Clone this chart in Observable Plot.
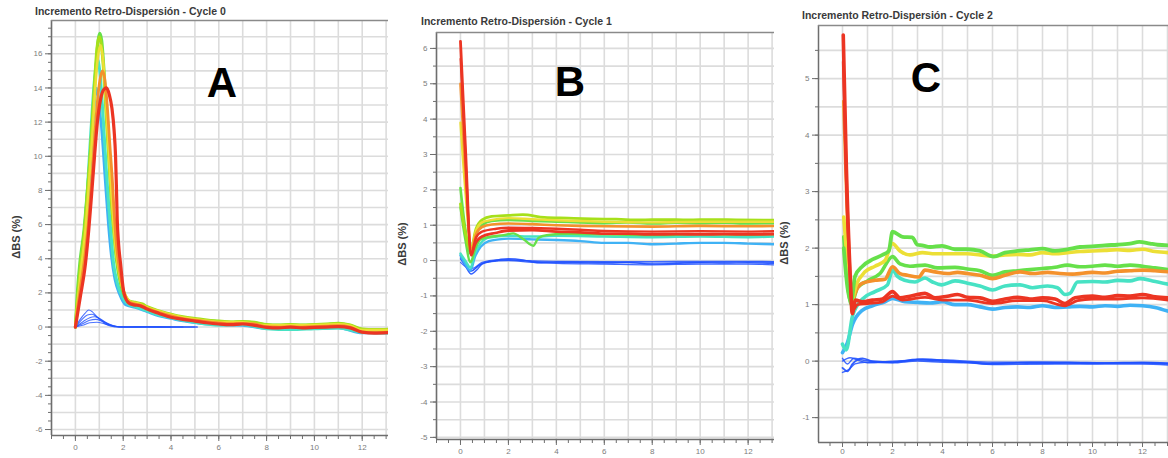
<!DOCTYPE html>
<html lang="es">
<head>
<meta charset="utf-8">
<script src="https://cdn.jsdelivr.net/npm/d3@7"></script>
<script src="https://cdn.jsdelivr.net/npm/@observablehq/plot@0.6"></script>
<style>
  html, body { margin: 0; padding: 0; background: #fff; }
  #page { position: relative; width: 1168px; height: 458px; overflow: hidden; font-family: "Liberation Sans", Arial, sans-serif; }
  .panel { position: absolute; top: 0; }
  .title { position: absolute; font-weight: bold; font-size: 10.5px; color: #3a3a3a; white-space: nowrap; line-height: 1; }
  .ylab { position: absolute; font-weight: bold; font-size: 11px; color: #3a3a3a; white-space: nowrap; line-height: 1; transform: translate(-50%, -50%) rotate(-90deg); }
  .tag { position: absolute; font-weight: bold; font-size: 42px; color: #000; line-height: 1; transform: translateX(-50%); }
</style>
</head>
<body>
<div id="page"></div>
<script>
// Scan colours, from the first scans (blue) to the last ones (red)
const BLUE = "#1f50ff";
const SKY = "#3fb2f5";
const TURQ = "#47e2c4";
const GREEN = "#66e04a";
const LIME = "#a6e01a";
const YELLOW = "#ecdf35";
const ORANGE = "#f4912c";
const RED = "#ec3523";

// ---------- Cycle 0 : ΔBS (%) vs time ----------
const cycle0XTicks = [0, 2, 4, 6, 8, 10, 12];
const cycle0YTicks = [-6, -4, -2, 0, 2, 4, 6, 8, 10, 12, 14, 16];

const c0Blue1 = [[0,0],[0.2,0.45],[0.4,0.8],[0.56,1.0],[0.7,0.9],[0.9,0.6],[1.1,0.35],[1.3,0.15],[1.5,0.05],[1.8,0],[2.5,0],[3.5,0],[4.5,0],[5.1,0]];
const c0Blue2 = [[0,0],[0.25,0.4],[0.5,0.7],[0.7,0.75],[0.9,0.6],[1.1,0.4],[1.4,0.15],[1.7,0.03],[2,0],[3,0],[4,0],[5.1,0]];
const c0Blue3 = [[0,0],[0.3,0.3],[0.6,0.55],[0.8,0.6],[1.0,0.5],[1.3,0.25],[1.6,0.08],[2,0],[3,0.02],[4,0],[5,0]];
const c0Blue4 = [[0,0],[0.3,0.2],[0.6,0.4],[0.85,0.45],[1.1,0.35],[1.4,0.15],[1.8,0.02],[2.5,0],[4.5,0]];
const c0Blue5 = [[0,0],[0.3,0.1],[0.6,0.25],[0.9,0.28],[1.2,0.2],[1.5,0.08],[1.9,0],[3,0],[4,0]];
const c0Sky = [[0,0],[0.1,1],[0.25,2.5],[0.4,4.5],[0.55,7.5],[0.7,11],[0.82,13.4],[0.88,14.0],[0.96,13.5],[1.1,11.5],[1.25,8.5],[1.38,6],[1.5,4.2],[1.65,2.8],[1.85,1.9],[2.1,1.3],[2.5,1.15],[3,0.9],[3.5,0.65],[4,0.5],[4.5,0.35],[5,0.25],[6,0.12],[7,0.1],[8,-0.1],[9,-0.1],[10,-0.1],[11,-0.05],[12,-0.35],[13.1,-0.35]];
const c0Turq = [[0,0],[0.08,1],[0.2,2.5],[0.35,5],[0.5,8],[0.65,11.5],[0.8,14.5],[0.93,15.7],[1.02,15],[1.15,12.5],[1.28,9.5],[1.4,7],[1.48,5.6],[1.6,3.7],[1.75,2.6],[1.95,1.8],[2.2,1.35],[2.5,1.2],[3,0.95],[3.5,0.7],[4,0.55],[4.5,0.4],[5,0.28],[6,0.12],[7,0.15],[8,-0.1],[9,-0.15],[10,-0.1],[11,-0.05],[12,-0.3],[13.1,-0.35]];
const c0Green = [[0,0],[0.07,1.8],[0.18,3.7],[0.36,5.7],[0.5,8],[0.62,10],[0.72,12.3],[0.85,15],[0.95,16.8],[1.02,17.2],[1.1,16.8],[1.2,15],[1.3,12.5],[1.4,10],[1.5,7.5],[1.6,5.7],[1.72,3.9],[1.88,2.6],[2.05,1.8],[2.25,1.5],[2.5,1.4],[2.8,1.3],[3,1.15],[3.5,0.9],[4,0.72],[4.5,0.55],[5,0.45],[5.5,0.38],[6,0.32],[6.5,0.28],[7,0.3],[7.5,0.25],[8,0.12],[8.5,0.1],[9,0.12],[9.5,0.1],[10,0.12],[10.5,0.15],[11,0.2],[11.5,0.1],[12,-0.15],[12.5,-0.18],[13.1,-0.15]];
const c0Lime = [[0,0],[0.08,1.5],[0.2,3.5],[0.39,5.8],[0.52,8.2],[0.66,11],[0.78,13.8],[0.9,16.3],[1.0,17.0],[1.08,16.6],[1.18,15],[1.3,12.2],[1.42,9.5],[1.52,7.2],[1.62,5.5],[1.75,3.8],[1.9,2.6],[2.1,1.8],[2.3,1.5],[2.5,1.45],[2.8,1.35],[3,1.2],[3.5,0.95],[4,0.75],[4.5,0.6],[5,0.5],[5.5,0.42],[6,0.35],[6.5,0.3],[7,0.32],[7.5,0.28],[8,0.15],[8.5,0.12],[9,0.15],[9.5,0.12],[10,0.15],[10.5,0.18],[11,0.22],[11.5,0.12],[12,-0.12],[12.5,-0.15],[13.1,-0.12]];
const c0Yellow = [[0,0],[0.08,1.2],[0.22,3.2],[0.41,5.5],[0.55,8],[0.7,11],[0.82,13.8],[0.95,15.9],[1.05,16.5],[1.13,16],[1.23,14.3],[1.35,11.5],[1.46,8.8],[1.56,6.8],[1.66,5.0],[1.8,3.5],[1.95,2.4],[2.15,1.7],[2.35,1.45],[2.6,1.4],[3,1.15],[3.5,0.92],[4,0.72],[4.5,0.56],[5,0.46],[6,0.3],[7,0.28],[8,0.1],[9,0.1],[10,0.12],[11,0.16],[11.5,0.08],[12,-0.18],[13.1,-0.18]];
const c0Orange = [[0,0],[0.07,0.9],[0.2,2.2],[0.4,4.2],[0.55,6.2],[0.68,8.5],[0.8,11],[0.92,13.2],[1.03,14.5],[1.13,15.0],[1.22,14.6],[1.33,13],[1.45,10.5],[1.55,8.5],[1.63,6.5],[1.72,4.8],[1.85,3.3],[2.0,2.2],[2.2,1.5],[2.5,1.35],[2.8,1.25],[3,1.1],[3.5,0.85],[4,0.65],[4.5,0.5],[5,0.4],[5.5,0.32],[6,0.25],[6.5,0.2],[7,0.22],[7.5,0.18],[8,0.02],[8.5,0.0],[9,0.03],[9.5,0.0],[10,0.03],[10.5,0.05],[11,0.08],[11.5,0.0],[12,-0.3],[12.5,-0.33],[13.1,-0.3]];
const c0Red = [[0,0],[0.07,0.6],[0.21,1.8],[0.42,3.7],[0.56,5.7],[0.68,7.8],[0.8,10],[0.92,12],[1.05,13.3],[1.18,13.9],[1.3,14.0],[1.42,13.6],[1.53,12.8],[1.62,11.5],[1.68,10],[1.72,8],[1.75,6.3],[1.8,5],[1.89,3.7],[2.03,2.0],[2.24,1.4],[2.45,1.3],[2.7,1.25],[3,1.05],[3.5,0.8],[4,0.57],[4.5,0.45],[5,0.35],[5.5,0.25],[6,0.18],[6.5,0.14],[7,0.18],[7.5,0.1],[8,-0.02],[8.5,-0.05],[9,0.0],[9.5,-0.05],[10,-0.02],[10.5,0.0],[11,0.02],[11.5,-0.05],[12,-0.3],[12.5,-0.35],[13.1,-0.32]];

// ---------- Cycle 1 ----------
const cycle1XTicks = [0, 2, 4, 6, 8, 10, 12];
const cycle1YTicks = [-5, -4, -3, -2, -1, 0, 1, 2, 3, 4, 5, 6];

const c1Blue1 = [[0,0.05],[0.2,-0.15],[0.45,-0.38],[0.7,-0.25],[0.9,-0.1],[1.3,-0.02],[2,0.05],[2.6,0.02],[3.2,-0.06],[4,-0.05],[5,-0.06],[6,-0.07],[7,-0.05],[8,-0.1],[9,-0.08],[10,-0.06],[11,-0.07],[12,-0.06],[13.1,-0.08]];
const c1Blue2 = [[0,0.15],[0.2,-0.1],[0.4,-0.3],[0.7,-0.18],[1,-0.05],[1.5,0.0],[2,0.03],[3,-0.02],[4,-0.04],[6,-0.05],[8,-0.07],[10,-0.05],[12,-0.04],[13.1,-0.05]];
const c1Blue3 = [[0,-0.05],[0.25,-0.2],[0.45,-0.3],[0.8,-0.12],[1.2,-0.04],[2,0.0],[3,-0.05],[4,-0.08],[6,-0.1],[8,-0.12],[10,-0.1],[12,-0.1],[13.1,-0.12]];
const c1Blue4 = [[0,0.1],[0.3,-0.15],[0.5,-0.22],[0.9,-0.05],[1.5,0.02],[2.5,0.0],[4,-0.02],[6,-0.03],[8,-0.03],[10,-0.02],[12,-0.02],[13.1,-0.03]];
const c1Sky = [[0,0.15],[0.2,-0.1],[0.42,-0.28],[0.6,0.1],[0.85,0.4],[1.18,0.55],[1.6,0.6],[2,0.62],[3,0.6],[4,0.58],[5,0.55],[6,0.5],[7,0.5],[8,0.46],[9,0.48],[10,0.5],[11,0.5],[12,0.48],[13.1,0.46]];
const c1Turq = [[0,0.2],[0.2,0],[0.42,-0.2],[0.6,0.2],[0.85,0.5],[1.2,0.65],[2,0.7],[3,0.68],[4,0.7],[6,0.68],[8,0.66],[10,0.68],[12,0.66],[13.1,0.68]];
const c1LightGreen = [[0,1.5],[0.2,0.6],[0.42,-0.05],[0.6,0.3],[0.83,0.6],[1.3,0.68],[1.8,0.72],[2.2,0.77],[2.6,0.62],[3.04,0.42],[3.25,0.64],[3.6,0.72],[4.5,0.76],[6,0.74],[8,0.72],[10,0.74],[12,0.73],[13.1,0.74]];
const c1Green = [[0,2.05],[0.2,0.9],[0.42,0.2],[0.65,0.75],[0.9,1.0],[1.3,1.12],[2,1.15],[3,1.12],[4,1.1],[5,1.08],[6,1.06],[7,1.08],[8,1.05],[9,1.07],[10,1.06],[11,1.07],[12,1.05],[13.1,1.06]];
const c1Lime = [[0,1.6],[0.2,0.8],[0.42,0.3],[0.65,0.9],[0.9,1.15],[1.3,1.25],[2,1.28],[2.6,1.3],[3.5,1.22],[4.5,1.2],[5.5,1.18],[6.5,1.17],[7.5,1.15],[8.5,1.16],[9.5,1.15],[10.5,1.16],[11.5,1.15],[13.1,1.14]];
const c1Yellow = [[0,3.9],[0.2,2.0],[0.45,0.35],[0.65,0.85],[0.9,1.08],[1.3,1.15],[2,1.2],[3,1.17],[4,1.14],[5,1.12],[6,1.1],[8,1.08],[10,1.1],[12,1.1],[13.1,1.1]];
const c1Orange = [[0,5.0],[0.2,2.6],[0.45,0.3],[0.65,0.75],[0.9,0.95],[1.3,1.02],[2,1.05],[3,1.03],[4,1.0],[5,0.98],[6,0.97],[8,0.96],[10,0.98],[12,0.97],[13.1,0.98]];
const c1Red2 = [[0.01,5.7],[0.2,3.0],[0.45,0.2],[0.65,0.65],[0.9,0.82],[1.5,0.9],[2,0.93],[3,0.92],[4,0.9],[5,0.87],[6,0.84],[8,0.82],[10,0.83],[12,0.82],[13.1,0.83]];
const c1Red = [[0,6.2],[0.2,3.3],[0.45,0.15],[0.6,0.45],[0.9,0.68],[1.46,0.78],[2,0.85],[3,0.86],[4,0.82],[5,0.8],[6,0.76],[7,0.76],[8,0.74],[9,0.75],[10,0.74],[11,0.75],[12,0.74],[13.1,0.75]];

// ---------- Cycle 2 ----------
const cycle2XTicks = [0, 2, 4, 6, 8, 10, 12];
const cycle2YTicks = [-1, 0, 1, 2, 3, 4, 5];

const c2Blue1 = [[0,-0.12],[0.2,-0.18],[0.4,-0.05],[0.8,0.05],[1.2,0.0],[2,-0.02],[3,0.03],[3.5,0.02],[4,0.0],[5,-0.02],[6,-0.05],[7,-0.03],[8,-0.04],[9,-0.03],[10,-0.04],[11,-0.03],[12,-0.03],[13.04,-0.05]];
const c2Blue2 = [[0,0.05],[0.2,-0.05],[0.45,0.05],[0.8,0.02],[1.5,-0.02],[2.5,0.0],[3.2,0.04],[4.5,0.0],[6,-0.04],[7.5,-0.02],[9,-0.02],[10.5,-0.03],[12,-0.02],[13.04,-0.04]];
const c2Blue3 = [[0,-0.2],[0.25,-0.15],[0.5,-0.05],[0.9,-0.02],[2,-0.03],[3,0.0],[4,-0.02],[5,-0.03],[6,-0.06],[8,-0.05],[10,-0.05],[12,-0.05],[13.04,-0.07]];
const c2Blue4 = [[0,0.0],[0.3,0.06],[0.6,0.02],[1,-0.03],[2,0.0],[3.3,0.02],[4,0.02],[6,-0.02],[8,-0.02],[10,-0.03],[12,-0.03],[13.04,-0.03]];
const c2Sky = [[0,0.15],[0.19,0.32],[0.4,0.65],[0.79,0.9],[1.2,0.98],[1.7,1.05],[2.0,1.11],[2.5,1.05],[3,1.04],[3.5,1.03],[4,1.05],[4.5,1.0],[5,1.0],[5.5,0.96],[6,0.92],[6.5,0.95],[7,0.96],[7.5,0.95],[8,0.98],[8.5,0.95],[9,0.96],[9.5,0.97],[10,0.96],[10.5,0.98],[11,0.97],[11.5,0.99],[12,0.98],[12.5,0.95],[13.04,0.88]];
const c2Turq = [[0,0.3],[0.15,0.2],[0.4,0.8],[0.8,1.1],[1.3,1.23],[1.8,1.35],[2.0,1.61],[2.2,1.5],[2.48,1.43],[2.9,1.4],[3.3,1.47],[3.6,1.4],[3.97,1.35],[4.5,1.42],[5,1.38],[5.5,1.33],[6,1.26],[6.5,1.33],[7.1,1.35],[7.6,1.3],[8.2,1.33],[8.6,1.3],[8.9,1.18],[9.1,1.2],[9.4,1.4],[10,1.41],[10.5,1.4],[11,1.43],[11.5,1.42],[11.9,1.46],[12.4,1.42],[13.04,1.36]];
const c2GreenMid = [[0.05,2.2],[0.2,1.4],[0.35,1.0],[0.6,1.3],[1.0,1.42],[1.5,1.55],[2.0,1.85],[2.3,1.72],[2.7,1.68],[3.3,1.7],[3.8,1.65],[4.5,1.66],[5,1.63],[5.5,1.6],[6,1.52],[6.5,1.58],[7,1.6],[7.5,1.62],[8,1.64],[8.5,1.66],[9,1.7],[9.5,1.67],[10,1.68],[10.5,1.7],[11,1.68],[11.5,1.7],[12,1.68],[12.5,1.65],[13.04,1.62]];
const c2Orange = [[0.05,4.6],[0.2,2.5],[0.38,1.1],[0.6,1.3],[0.8,1.38],[1.3,1.43],[1.7,1.45],[2.0,1.67],[2.3,1.55],[2.6,1.52],[3.05,1.49],[3.3,1.61],[3.7,1.58],[4.2,1.55],[4.6,1.57],[5,1.55],[5.5,1.52],[6,1.46],[6.5,1.52],[7.1,1.58],[7.6,1.55],[8.2,1.57],[8.7,1.55],[9.2,1.54],[10,1.57],[10.5,1.56],[11,1.59],[11.5,1.6],[12,1.61],[12.5,1.6],[13.04,1.58]];
const c2Yellow = [[0.05,2.55],[0.2,1.7],[0.35,1.05],[0.55,1.35],[0.9,1.58],[1.3,1.68],[1.7,1.78],[2.0,2.08],[2.3,1.95],[2.7,1.88],[3.2,1.92],[3.7,1.9],[4.3,1.9],[5,1.9],[5.5,1.88],[6,1.86],[6.5,1.88],[7,1.89],[7.5,1.88],[8,1.92],[8.5,1.9],[9,1.92],[9.5,1.94],[10,1.95],[10.5,1.96],[11,1.97],[11.5,1.96],[12,1.98],[12.5,1.94],[13.04,1.92]];
const c2Green = [[0.05,2.0],[0.2,1.3],[0.35,1.05],[0.5,1.5],[0.8,1.68],[1.2,1.8],[1.6,1.88],[1.85,1.95],[2.0,2.29],[2.4,2.2],[2.79,2.19],[3.0,2.06],[3.18,2.05],[3.5,2.02],[3.98,2.04],[4.5,1.98],[5,1.98],[5.5,1.95],[6.05,1.85],[6.5,1.92],[7,1.95],[7.5,1.97],[8,1.99],[8.5,1.95],[9,1.98],[9.5,2.02],[10,2.03],[10.5,2.05],[11,2.06],[11.5,2.08],[11.87,2.11],[12.3,2.08],[12.6,2.06],[13.04,2.05]];
const c2Red2 = [[0.03,5.3],[0.15,3.2],[0.3,1.5],[0.42,0.9],[0.6,1.0],[1,1.02],[1.6,1.05],[2,1.15],[2.4,1.08],[3.3,1.13],[4,1.08],[5,1.08],[6,1.02],[7,1.07],[8,1.07],[8.9,0.98],[9.4,1.07],[10,1.1],[11,1.1],[12,1.12],[13.04,1.08]];
const c2Red = [[0.03,5.77],[0.15,3.5],[0.3,1.6],[0.39,0.84],[0.52,1.08],[0.8,1.05],[1.2,1.08],[1.6,1.1],[2,1.23],[2.3,1.12],[2.7,1.15],[3.3,1.2],[3.7,1.12],[4.2,1.15],[4.6,1.18],[5,1.13],[5.5,1.12],[6,1.06],[6.5,1.1],[7,1.13],[7.5,1.1],[8,1.12],[8.5,1.1],[8.9,1.02],[9.3,1.12],[10,1.15],[10.5,1.13],[11,1.16],[11.5,1.15],[12,1.18],[12.5,1.14],[13.04,1.12]];

const GRID = "#dcdcdc";
const AXIS = "#6e6e6e";
const TICK_TEXT = "#7c7c7c";

const page = document.getElementById("page");

function addDiv(cls, text, style) {
  const d = document.createElement("div");
  d.className = cls;
  d.textContent = text;
  Object.assign(d.style, style);
  page.appendChild(d);
}

// Plain hyphen-minus for negative tick labels
const tickText = d => String(d);

function panel(cfg) {
  const [x0, x1] = cfg.xDomain;
  const [y0, y1] = cfg.yDomain;
  const xMinor = d3.range(Math.ceil(x0 * 2) / 2, x1 + 1e-9, 0.5);
  const xGrid = d3.range(Math.ceil(x0), x1 + 1e-9, 1);
  const yMinor = d3.range(Math.ceil(y0 * 2) / 2, y1 + 1e-9, 0.5);
  const yGrid = d3.range(Math.ceil(y0 / cfg.yGridStep) * cfg.yGridStep, y1 + 1e-9, cfg.yGridStep);
  const lines = cfg.series.map(s => Plot.line(s.points, {
    x: d => d[0], y: d => d[1],
    stroke: s.color, strokeWidth: s.width, strokeOpacity: s.opacity ?? 1,
    curve: "monotone-x", clip: true, strokeLinejoin: "round", strokeLinecap: "round"
  }));
  const svg = Plot.plot({
    width: cfg.width,
    height: 458,
    marginLeft: cfg.marginLeft,
    marginRight: cfg.marginRight,
    marginTop: cfg.marginTop,
    marginBottom: cfg.marginBottom,
    style: {fontFamily: "'Liberation Sans', Arial, sans-serif", fontSize: "8px", background: "transparent"},
    x: {domain: cfg.xDomain},
    y: {domain: cfg.yDomain},
    marks: [
      Plot.gridX(xGrid, {stroke: GRID, strokeOpacity: 1, strokeWidth: 1.6}),
      Plot.gridY(yGrid, {stroke: GRID, strokeOpacity: 1, strokeWidth: 1.6}),
      ...lines,
      Plot.axisX(xMinor, {tickSize: 4, tickFormat: () => "", stroke: AXIS, label: null}),
      Plot.axisX(cfg.xTicks, {tickSize: cfg.xTickSize, tickPadding: cfg.xTickPadding, tickFormat: tickText, stroke: AXIS, fill: TICK_TEXT, fontSize: 8, label: null}),
      Plot.axisY(yMinor, {tickSize: 3, tickFormat: () => "", stroke: AXIS, label: null}),
      Plot.axisY(cfg.yTicks, {tickSize: 6, tickPadding: 3, tickFormat: tickText, stroke: AXIS, fill: TICK_TEXT, fontSize: 8, label: null}),
      Plot.ruleX([x0], {stroke: AXIS, strokeWidth: 1.5}),
      Plot.ruleY([y0], {stroke: AXIS, strokeWidth: 1.5}),
      Plot.ruleY([y1], {stroke: "#8a8a8a", strokeWidth: 1.5})
    ]
  });
  svg.classList.add("panel");
  svg.style.left = cfg.left + "px";
  page.appendChild(svg);

  addDiv("title", cfg.title, {left: cfg.titleX + "px", top: cfg.titleTop + "px"});
  addDiv("ylab", "ΔBS (%)", {left: cfg.ylabX + "px", top: cfg.ylabY + "px"});
  addDiv("tag", cfg.tag, {left: cfg.tagX + "px", top: cfg.tagTop + "px"});
}

panel({
  left: 0, width: 390, marginLeft: 51, marginRight: 2, marginTop: 20, marginBottom: 23,
  xDomain: [-1, 13.1], yDomain: [-6.35, 17.95], yGridStep: 1,
  xTicks: cycle0XTicks, yTicks: cycle0YTicks, xTickSize: 6, xTickPadding: 3,
  title: "Incremento Retro-Dispersión - Cycle 0", titleX: 35, titleTop: 5.5,
  ylabX: 16, ylabY: 237, tag: "A", tagX: 222, tagTop: 62,
  series: [
    {points: c0Blue5, color: BLUE, width: 1.1, opacity: 0.8},
    {points: c0Blue4, color: BLUE, width: 1.1, opacity: 0.8},
    {points: c0Blue3, color: BLUE, width: 1.1, opacity: 0.8},
    {points: c0Blue2, color: BLUE, width: 1.1, opacity: 0.8},
    {points: c0Blue1, color: BLUE, width: 1.1, opacity: 0.8},
    {points: c0Sky, color: SKY, width: 2.6},
    {points: c0Turq, color: TURQ, width: 3},
    {points: c0Green, color: GREEN, width: 3},
    {points: c0Lime, color: LIME, width: 3},
    {points: c0Yellow, color: YELLOW, width: 2.6},
    {points: c0Orange, color: ORANGE, width: 2.8},
    {points: c0Red, color: RED, width: 3.2}
  ]
});

panel({
  left: 392, width: 384, marginLeft: 44, marginRight: 2, marginTop: 32, marginBottom: 19,
  xDomain: [-1, 13.1], yDomain: [-5.06, 6.45], yGridStep: 0.5,
  xTicks: cycle1XTicks, yTicks: cycle1YTicks, xTickSize: 6, xTickPadding: 3,
  title: "Incremento Retro-Dispersión - Cycle 1", titleX: 421, titleTop: 16,
  ylabX: 402, ylabY: 244, tag: "B", tagX: 570, tagTop: 61,
  series: [
    {points: c1Blue4, color: BLUE, width: 1.2, opacity: 0.85},
    {points: c1Blue3, color: BLUE, width: 1.2, opacity: 0.85},
    {points: c1Blue2, color: BLUE, width: 1.2, opacity: 0.85},
    {points: c1Blue1, color: BLUE, width: 1.4, opacity: 0.9},
    {points: c1Sky, color: SKY, width: 2.4},
    {points: c1Turq, color: TURQ, width: 2.4},
    {points: c1LightGreen, color: GREEN, width: 2.4},
    {points: c1Green, color: GREEN, width: 2.6},
    {points: c1Lime, color: LIME, width: 2.8},
    {points: c1Yellow, color: YELLOW, width: 2.4},
    {points: c1Orange, color: ORANGE, width: 2.6},
    {points: c1Red2, color: RED, width: 2.4},
    {points: c1Red, color: RED, width: 2.8}
  ]
});

panel({
  left: 776, width: 392, marginLeft: 42, marginRight: 0, marginTop: 25, marginBottom: 16,
  xDomain: [-0.96, 13.04], yDomain: [-1.44, 5.94], yGridStep: 0.5,
  xTicks: cycle2XTicks, yTicks: cycle2YTicks, xTickSize: 5, xTickPadding: 1,
  title: "Incremento Retro-Dispersión - Cycle 2", titleX: 802, titleTop: 9.5,
  ylabX: 784, ylabY: 243, tag: "C", tagX: 926, tagTop: 57,
  series: [
    {points: c2Blue3, color: BLUE, width: 1.4, opacity: 0.85},
    {points: c2Blue1, color: BLUE, width: 1.8, opacity: 0.9},
    {points: c2Blue2, color: BLUE, width: 1.4, opacity: 0.85},
    {points: c2Blue4, color: BLUE, width: 1.4, opacity: 0.85},
    {points: c2Sky, color: SKY, width: 3.6},
    {points: c2Turq, color: TURQ, width: 3.6},
    {points: c2GreenMid, color: GREEN, width: 3.6},
    {points: c2Orange, color: ORANGE, width: 3.6},
    {points: c2Yellow, color: YELLOW, width: 3.6},
    {points: c2Green, color: GREEN, width: 3.8},
    {points: c2Red2, color: RED, width: 2.8},
    {points: c2Red, color: RED, width: 3.6}
  ]
});
</script>
</body>
</html>
